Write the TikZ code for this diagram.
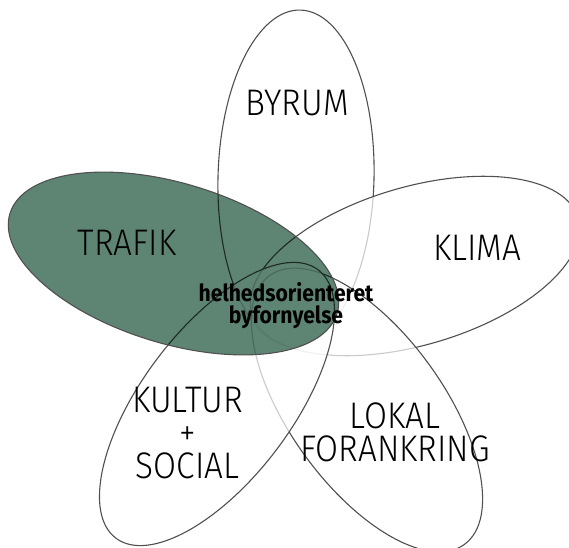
\documentclass[tikz,border=0pt]{standalone}
\usepackage{fontspec}
\setmainfont{Fira Sans}
\newfontfamily\lightfont{Fira Sans Light}[FakeStretch=0.9]
\newfontfamily\heavyfont{Fira Sans Bold}[FakeStretch=0.9]
\definecolor{trafikgreen}{RGB}{94,133,116}
\definecolor{edgegray}{RGB}{80,80,80}
\tikzset{
  petal/.style={draw=edgegray, line width=1.1pt, fill=white, fill opacity=0.7, draw opacity=1},
  petaltext/.style={font=\fontsize{37}{33}\lightfont, text=black, inner sep=0pt, align=center},
  coretext/.style={font=\fontsize{23.5}{22}\heavyfont, text=black, inner sep=0pt, align=center},
}
\begin{document}
\begin{tikzpicture}[x=1pt,y=1pt]
\useasboundingbox (0,0) rectangle (569,547);
\clip (0,0) rectangle (569,547);
% petals, drawn in order so that each translucent white fill fades earlier edges
\path[petal, shift={(296,369)}, rotate=88.5] (0,0) ellipse [x radius=168, y radius=78];
\path[petal, shift={(415,281)}, rotate=16.4] (0,0) ellipse [x radius=170, y radius=79];
\path[petal, shift={(367,137)}, rotate=-54.1] (0,0) ellipse [x radius=166, y radius=77];
\path[petal, shift={(217,143)}, rotate=233] (0,0) ellipse [x radius=168, y radius=75];
% TRAFIK
\begin{scope}[blend mode=multiply]
\fill[trafikgreen, shift={(173.5,283.5)}, rotate=-17] (0,0) ellipse [x radius=171, y radius=80];
\end{scope}
\draw[edgegray, line width=1.1pt, shift={(173.5,283.5)}, rotate=-17] (0,0) ellipse [x radius=171, y radius=80];
% labels
\node[petaltext, anchor=north] (byrum) at (297,457) {BYRUM};
\node[petaltext, anchor=north] (trafik) at (127,317) {TRAFIK};
\node[petaltext, anchor=north] (klima) at (477,312) {KLIMA};
\node[petaltext, anchor=north] (kultur) at (187.5,160) {KULTUR\\+\\SOCIAL};
\node[petaltext, anchor=north] (lokal) at (395,144) {LOKAL\\FORANKRING};
\node[coretext, anchor=north] (core) at (286,265) {helhedsorienteret\\byfornyelse};
\end{tikzpicture}
\end{document}
